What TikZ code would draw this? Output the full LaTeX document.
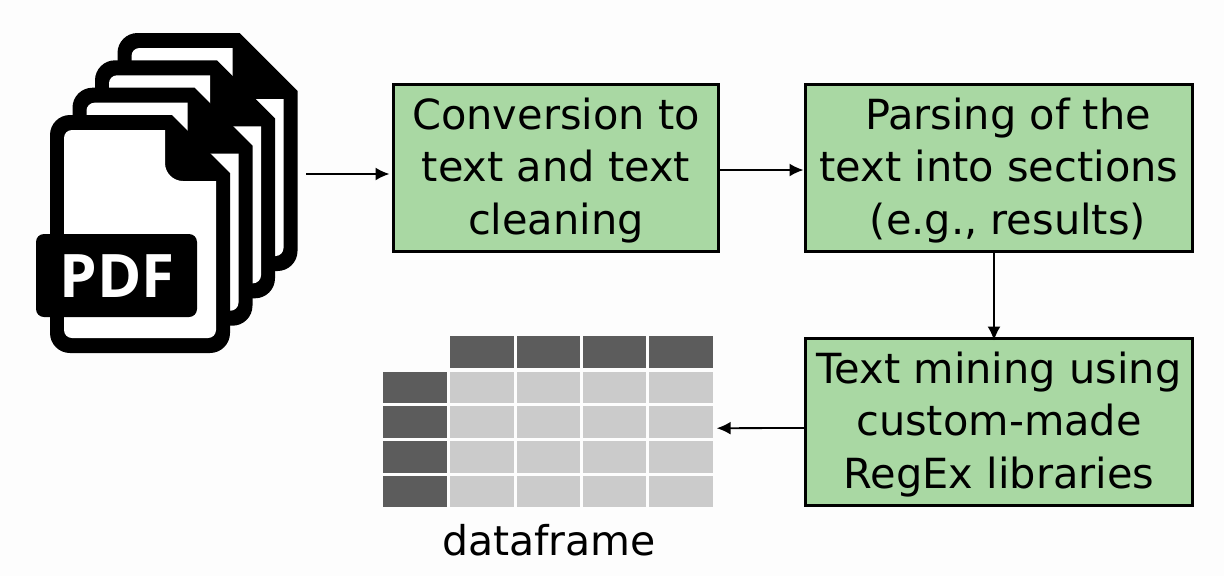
\documentclass[tikz,border=0pt]{standalone}
\usepackage{fontspec}
\usetikzlibrary{arrows.meta}
\setmainfont{DejaVu Sans}
\newfontfamily\badgefont{Open Sans}
\newcommand{\topstrut}{\rule{0pt}{36pt}}
\newcommand{\botstrut}{\rule[-9pt]{0pt}{9pt}}
\tikzset{pdfpage/.pic={
\fill [black] (0,20) arc (180:270:20) -- (122,0) -- (180,58) -- (180,218) arc (0:90:20) -- (20,238) arc (90:180:20) -- cycle;
\fill [white] (14,23) arc (180:270:8) -- (115,15) -- (115,48) arc (180:90:18) -- (166,66) -- (166,215) arc (0:90:8) -- (22,223) arc (90:180:8) -- cycle;
}}
\begin{document}
\begin{tikzpicture}[x=1pt,y=-1pt]
\tikzstyle{every node}+=[inner sep=0pt,outer sep=0pt]
\tikzstyle{stage}=[draw=black,line width=2.2pt,fill=stagegreen,minimum height=167pt,align=center,font=\fontsize{41.5}{52.5}\selectfont]
\tikzstyle{flow}=[black,line width=1.8pt,-{Latex[length=14pt,width=13pt]}]
\tikzstyle{headcell}=[fill=cellgrey,minimum width=63.5pt,minimum height=31.5pt]
\tikzstyle{datacell}=[fill=celllight,minimum width=63.5pt,minimum height=31.5pt]
\definecolor{stagegreen}{HTML}{A9D8A3}
\definecolor{cellgrey}{HTML}{5C5C5C}
\definecolor{celllight}{HTML}{CBCBCB}
\definecolor{paper}{HTML}{FDFDFD}
\useasboundingbox (0,0) rectangle (1224,576);
\fill [paper] (0,0) rectangle (1224,576);
\pic at (117.5,33) {pdfpage};
\pic at (95,60.3) {pdfpage};
\pic at (72.5,87.7) {pdfpage};
\pic at (50,115) {pdfpage};
\node [fill=black,rounded corners=8pt,minimum width=161pt,minimum height=83pt] (badge) at (116.5,275.5) {};
\node [text=white,font=\badgefont\bfseries\fontsize{60}{60}\selectfont] at (117,276) {PDF};
\node [stage,minimum width=325pt] (conversion) at (556,168) {\topstrut Conversion to\\text and text\\cleaning\botstrut};
\node [stage,minimum width=387pt] (parsing) at (999,168) {\topstrut\hspace*{18pt}Parsing of the\\text into sections\\\hspace*{18pt}(e.g., results)\botstrut};
\node [stage,minimum width=387pt] (mining) at (999,422) {\topstrut Text mining using\\custom-made\\RegEx libraries\botstrut};
\foreach \col in {1,...,4} {
\node [headcell] (head\col) at ({450.3+31.75+66.3*(\col-1)},351.8) {};
}
\foreach \row in {1,...,4} {
\node [headcell] (side\row) at (414.8,{387.5+34.7*(\row-1)}) {};
\foreach \col in {1,...,4} {
\node [datacell] (cell\row\col) at ({450.3+31.75+66.3*(\col-1)},{387.5+34.7*(\row-1)}) {};
}
}
\node [font=\fontsize{41}{41}\selectfont] (dataframe) at (549,540) {dataframe};
\coordinate (pdfout) at (306,174);
\draw [flow,shorten >=4pt] (pdfout) -- (pdfout -| conversion.west);
\draw [flow] ([yshift=-2pt]conversion.east) -- ([xshift=-2pt,yshift=-2pt]parsing.west);
\draw [flow] ([xshift=-5pt]parsing.south) -- ([xshift=-5pt,yshift=-2pt]mining.north);
\draw [flow,shorten >=4pt] ([yshift=-6pt]mining.west) -- ([yshift=-6pt]cell24.east);
\end{tikzpicture}
\end{document}
